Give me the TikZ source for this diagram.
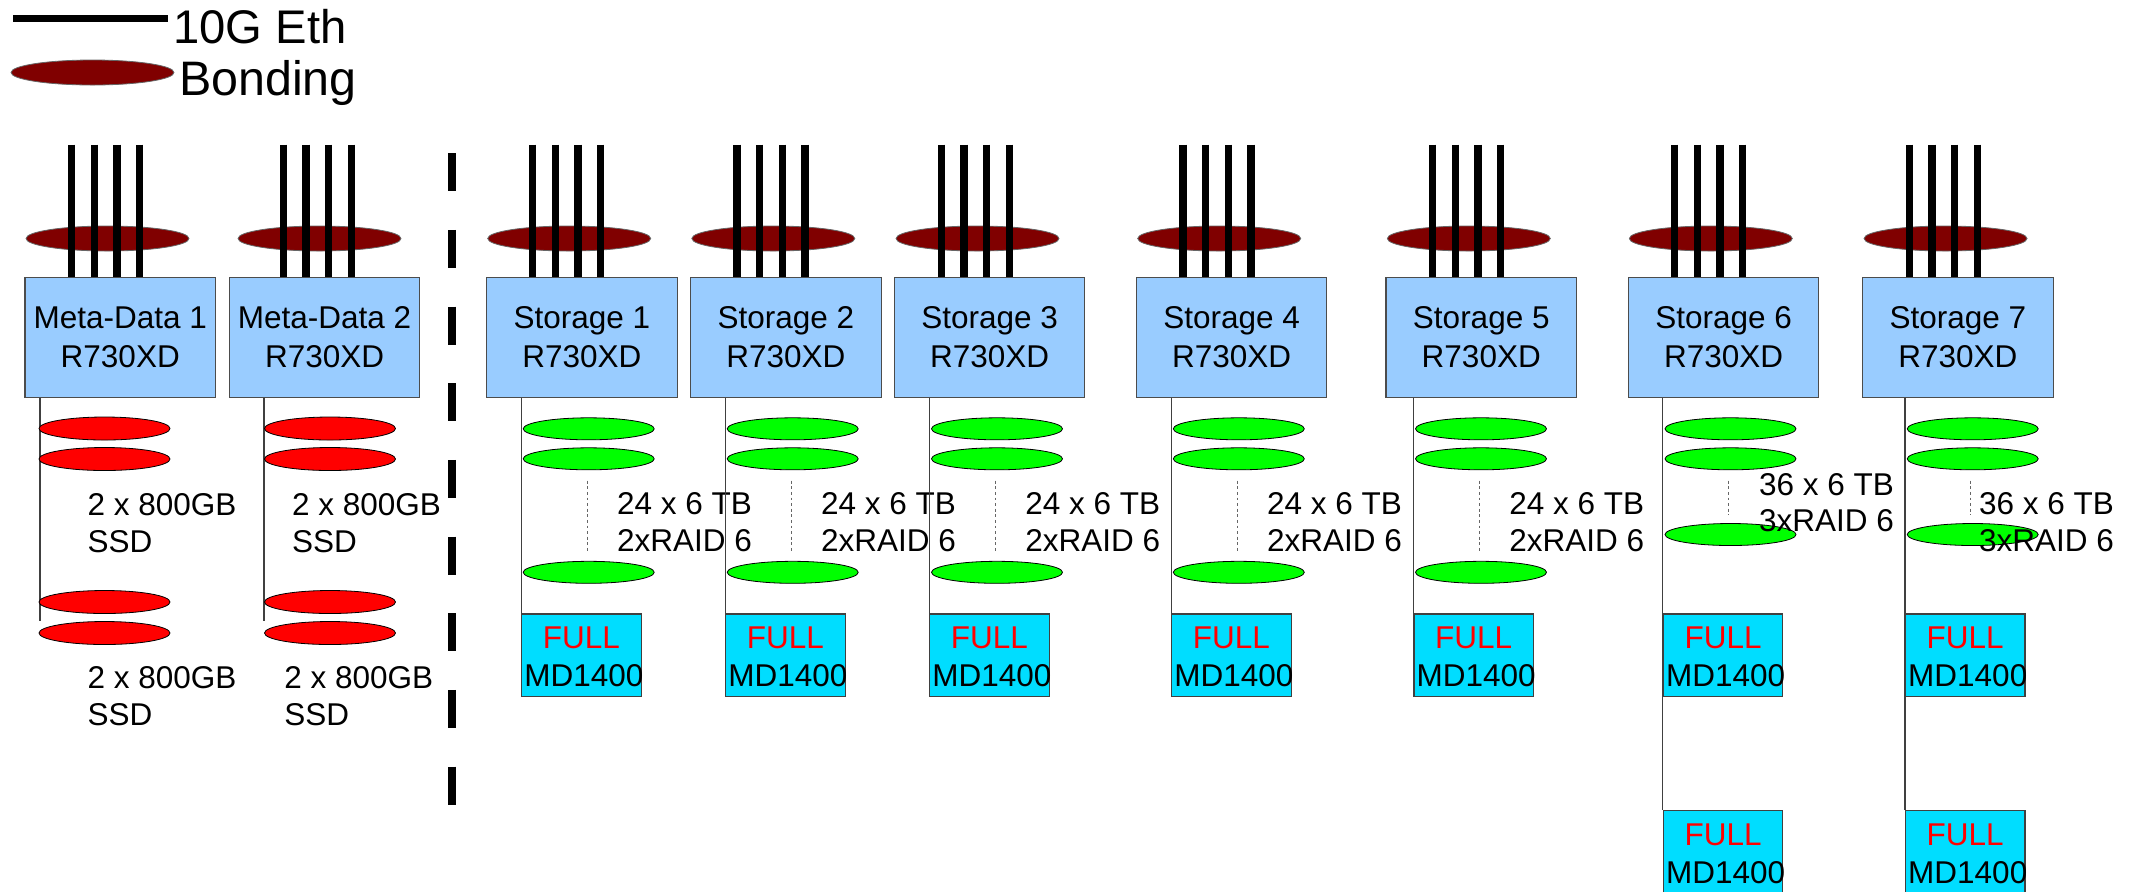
\documentclass[tikz,border=0pt]{standalone}
\usepackage{fontspec}
\setmainfont{Liberation Sans}
\usetikzlibrary{shapes.geometric}
\definecolor{srvblue}{RGB}{153,204,255}
\definecolor{fullcyan}{RGB}{0,221,255}
\definecolor{bondred}{RGB}{128,0,0}
\definecolor{diskred}{RGB}{255,0,0}
\definecolor{diskgreen}{RGB}{0,255,0}
\begin{document}
\begin{tikzpicture}[x=0.5pt,y=-0.5pt,
  lbl/.style={inner sep=0pt, font=\fontsize{15.75pt}{19.5pt}\selectfont},
  big/.style={inner sep=0pt, font=\fontsize{23.6pt}{27pt}\selectfont},
  srvbox/.style={draw=black!70, line width=0.6pt, fill=srvblue, minimum width=95.25pt, minimum height=59.85pt, inner sep=0pt, align=center, font=\fontsize{15.75pt}{19.5pt}\selectfont},
  fullbox/.style={draw=black!75, line width=0.6pt, fill=fullcyan, minimum width=59.7pt, minimum height=41.15pt, inner sep=0pt},
  bond/.style={ellipse, draw=black!60, line width=0.4pt, fill=bondred, minimum width=81.5pt, minimum height=12.5pt, inner sep=0pt},
  ssd/.style={ellipse, draw=black, line width=0.4pt, fill=diskred, minimum width=65.5pt, minimum height=11.5pt, inner sep=0pt},
  hdd/.style={ellipse, draw=black, line width=0.4pt, fill=diskgreen, minimum width=65.5pt, minimum height=11pt, inner sep=0pt},
  eth/.style={line width=3.75pt, black},
  conn/.style={draw=black!75, line width=0.6pt},
  dotline/.style={draw=black!60, line width=0.5pt, dash pattern=on 1.4pt off 1.4pt},
  sepline/.style={line width=3.85pt, dash pattern=on 19pt off 19.33pt}
]
\useasboundingbox (0,0) rectangle (2134,891);

% legend
\coordinate (lg1) at (13,18.3);
\coordinate (lg2) at (168,18.3);
\draw[line width=3.4pt] (lg1) -- (lg2);
\node[bond] (lgb) at (92.5,72.5) {};
\node[big, anchor=base west] (lgt1) at (173,43.3) {10G Eth};
\node[big, anchor=base west, font=\fontsize{24.2pt}{28pt}\selectfont] (lgt2) at (178.6,95) {Bonding};

% separator
\coordinate (sp1) at (452,153.3);
\coordinate (sp2) at (452,805);
\draw[sepline] (sp1) -- (sp2);

% meta-data servers
\foreach \i/\L/\e/\b/\v/\r/\ta/\tb in {1/25/71.7/107.5/40/104.5/87.3/87.3, 2/229.3/283.3/319.5/264/330/291.7/284}{
  \pgfmathsetmacro\cx{\L+95.25}
  \node[srvbox] (m\i) at (\cx,337.4) {Meta-Data \i\\R730XD};
  \node[bond] (mb\i) at (\b,238.5) {};
  \foreach \k in {0,1,2,3}{
    \pgfmathsetmacro\ex{\e+\k*22.67}
    \coordinate (me\i-\k) at (\ex,144.5);
    \draw[eth] (me\i-\k) -- (me\i-\k |- m\i.north);
  }
  \coordinate (mend\i) at (\v,621);
  \draw[conn] (m\i.south -| mend\i) -- (mend\i);
  \node[ssd] (mr\i-1) at (\r,428.5) {};
  \node[ssd] (mr\i-2) at (\r,459) {};
  \node[ssd] (mr\i-3) at (\r,602) {};
  \node[ssd] (mr\i-4) at (\r,633) {};
  \node[lbl, anchor=base west] (mt\i-1) at (\ta,515) {2 x 800GB};
  \node[lbl, anchor=base west] (mt\i-2) at (\ta,552.3) {SSD};
  \node[lbl, anchor=base west] (mt\i-3) at (\tb,688.3) {2 x 800GB};
  \node[lbl, anchor=base west] (mt\i-4) at (\tb,725.7) {SSD};
}

% storage servers 1-5
\foreach \i/\L/\e/\b/\g/\d/\t/\f in {
1/486.7/532.7/569.2/588.7/587/616.7/521.7,
2/690.7/737/773.3/792.7/791/820.7/725.7,
3/894.3/941.3/977.5/997/995.3/1025/929.7,
4/1136.3/1183/1219.2/1238.8/1237.3/1266.7/1171.7,
5/1386/1432.7/1468.8/1481/1479.3/1509/1414}{
  \pgfmathsetmacro\cx{\L+95.25}
  \pgfmathsetmacro\fx{\f+59.7}
  \node[srvbox] (s\i) at (\cx,337.4) {Storage \i\\R730XD};
  \node[bond] (sb\i) at (\b,238.5) {};
  \foreach \k in {0,1,2,3}{
    \pgfmathsetmacro\ex{\e+\k*22.67}
    \coordinate (se\i-\k) at (\ex,144.5);
    \draw[eth] (se\i-\k) -- (se\i-\k |- s\i.north);
  }
  \node[fullbox] (f\i) at (\fx,655.15) {};
  \draw[conn] (s\i.south -| f\i.west) -- (f\i.north west);
  \node[hdd] (g\i-1) at (\g,428.8) {};
  \node[hdd] (g\i-2) at (\g,458.8) {};
  \node[hdd] (g\i-3) at (\g,572.3) {};
  \coordinate (dt\i) at (\d,480.7);
  \coordinate (db\i) at (\d,552.7);
  \draw[dotline] (dt\i) -- (db\i);
  \node[lbl, anchor=base west] (st\i-1) at (\t,514.3) {24 x 6 TB};
  \node[lbl, anchor=base west] (st\i-2) at (\t,551.7) {2xRAID 6};
  \node[lbl, text=diskred, anchor=base] (fl\i) at (\fx,648.3) {FULL};
  \node[lbl, anchor=base west] (fm\i) at ({\f+2.3},686.7) {MD1400};
}

% storage servers 6-7
\foreach \i/\L/\e/\b/\g/\d/\t/\f/\ya/\yb in {
6/1628.3/1674.7/1710.8/1730.5/1728.7/1758.7/1663.3/495.7/531,
7/1862.7/1909.3/1945.5/1972.7/1970.7/1978.7/1905.5/514.3/551.7}{
  \pgfmathsetmacro\cx{\L+95.25}
  \pgfmathsetmacro\fx{\f+59.7}
  \node[srvbox] (s\i) at (\cx,337.4) {Storage \i\\R730XD};
  \node[bond] (sb\i) at (\b,238.5) {};
  \foreach \k in {0,1,2,3}{
    \pgfmathsetmacro\ex{\e+\k*22.67}
    \coordinate (se\i-\k) at (\ex,144.5);
    \draw[eth] (se\i-\k) -- (se\i-\k |- s\i.north);
  }
  \node[fullbox] (fb\i) at (\fx,851.45) {};
  \draw[conn] (s\i.south -| fb\i.west) -- (fb\i.north west);
  \node[fullbox] (f\i) at (\fx,655.15) {};
  \node[hdd] (g\i-1) at (\g,428.8) {};
  \node[hdd] (g\i-2) at (\g,458.8) {};
  \node[hdd] (g\i-3) at (\g,534.5) {};
  \coordinate (dt\i) at (\d,480.7);
  \coordinate (db\i) at (\d,515);
  \draw[dotline] (dt\i) -- (db\i);
  \node[lbl, anchor=base west] (st\i-1) at (\t,\ya) {36 x 6 TB};
  \node[lbl, anchor=base west] (st\i-2) at (\t,\yb) {3xRAID 6};
  \node[lbl, text=diskred, anchor=base] (fl\i) at (\fx,648.3) {FULL};
  \node[lbl, anchor=base west] (fm\i) at ({\f+2.3},686.7) {MD1400};
  \node[lbl, text=diskred, anchor=base] (flb\i) at (\fx,845.7) {FULL};
  \node[lbl, anchor=base west] (fmb\i) at ({\f+2.3},883.3) {MD1400};
}
\end{tikzpicture}
\end{document}
